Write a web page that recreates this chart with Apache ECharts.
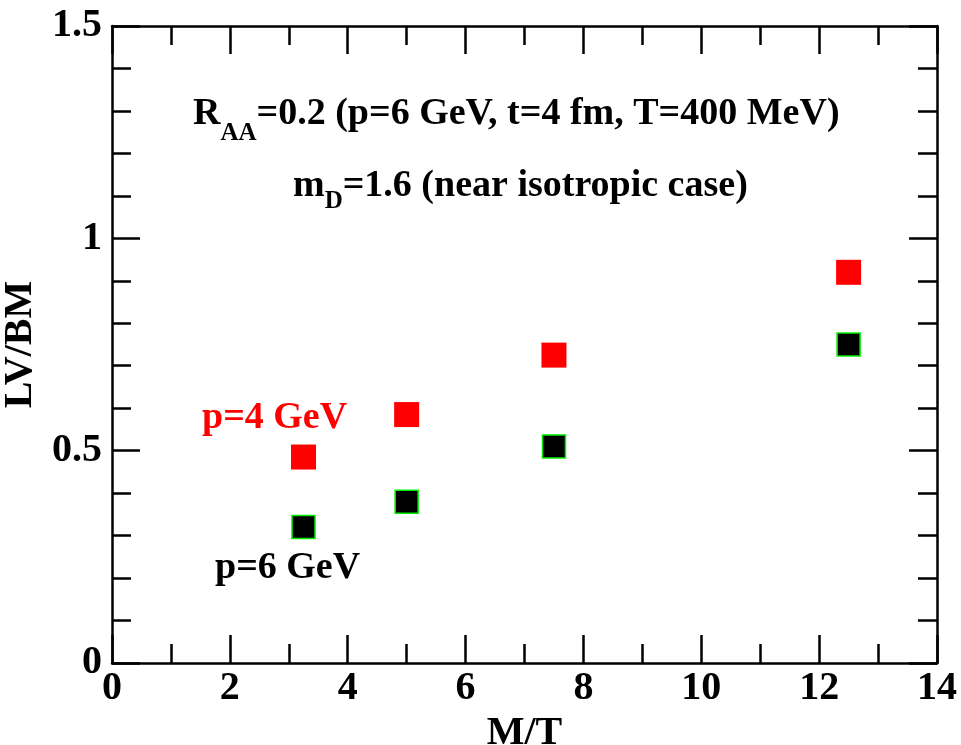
<!DOCTYPE html>
<html>
<head>
<meta charset="utf-8">
<script src="https://cdn.jsdelivr.net/npm/echarts@6/dist/echarts.min.js"></script>
</head>
<body style="margin:0;background:#fff">
<div id="main" style="width:961px;height:745px"></div>
<script>
// M/T values and LV/BM ratios
var massOverT = [3.25, 5, 7.5, 12.5];
var p4GeV = [0.485, 0.585, 0.725, 0.92];
var p6GeV = [0.32, 0.38, 0.51, 0.75];

function pairs(xs, ys) {
    return xs.map(function (x, i) { return [x, ys[i]]; });
}

var serifFont = 'Liberation Serif';
var axisLine = { onZero: false, lineStyle: { color: '#000', width: 2.5 } };
var tick = { inside: true, length: 28, lineStyle: { color: '#000', width: 2.5 } };
var minor = { show: true, length: 19, lineStyle: { color: '#000', width: 2.5 } };
var tickLabel = { color: '#000', fontFamily: serifFont, fontWeight: 'bold', fontSize: 40 };
var nameStyle = { color: '#000', fontFamily: serifFont, fontWeight: 'bold', fontSize: 40 };

function draw() {
    var chart = echarts.init(document.getElementById('main'));
    chart.setOption({
        animation: false,
        grid: { left: 112, right: 24, top: 26, bottom: 82, containLabel: false, outerBoundsMode: 'none' },
        xAxis: [
            {
                type: 'value', min: 0, max: 14, interval: 2,
                axisLine: axisLine, axisTick: tick,
                minorTick: Object.assign({ splitNumber: 2 }, minor),
                splitLine: { show: false }, minorSplitLine: { show: false },
                axisLabel: Object.assign({ margin: 6 }, tickLabel),
                name: 'M/T', nameLocation: 'middle', nameGap: 42,
                nameTextStyle: nameStyle
            },
            {
                type: 'value', min: 0, max: 14, interval: 2, position: 'top',
                axisLine: axisLine, axisTick: tick,
                minorTick: Object.assign({ splitNumber: 2 }, minor),
                splitLine: { show: false }, axisLabel: { show: false }
            }
        ],
        yAxis: [
            {
                type: 'value', min: 0, max: 1.5, interval: 0.5,
                axisLine: axisLine, axisTick: tick,
                minorTick: Object.assign({ splitNumber: 5 }, minor),
                splitLine: { show: false }, minorSplitLine: { show: false },
                axisLabel: Object.assign({ margin: 10, formatter: function (v) { return String(v); } }, tickLabel),
                name: 'LV/BM', nameLocation: 'middle', nameGap: 56,
                nameTextStyle: nameStyle
            },
            {
                type: 'value', min: 0, max: 1.5, interval: 0.5, position: 'right',
                axisLine: axisLine, axisTick: tick,
                minorTick: Object.assign({ splitNumber: 5 }, minor),
                splitLine: { show: false }, axisLabel: { show: false }
            }
        ],
        series: [
            {
                name: 'p=4 GeV', type: 'scatter', symbol: 'rect', symbolSize: 25,
                itemStyle: { color: '#ff0000', opacity: 1 },
                data: pairs(massOverT, p4GeV)
            },
            {
                name: 'p=6 GeV', type: 'scatter', symbol: 'rect', symbolSize: 23,
                itemStyle: { color: '#000', borderColor: '#00ee00', borderWidth: 1.5, opacity: 1 },
                data: pairs(massOverT, p6GeV)
            }
        ],
        graphic: [
            {
                type: 'text', left: 193, top: 95,
                style: {
                    text: '{n|R}{s|AA}{n|=0.2 (p=6 GeV, t=4 fm, T=400 MeV)}',
                    rich: {
                        n: { fontFamily: serifFont, fontWeight: 'bold', fontSize: 38, fill: '#000' },
                        s: { fontFamily: serifFont, fontWeight: 'bold', fontSize: 25, fill: '#000', padding: [39, 0, 0, 0] }
                    }
                }
            },
            {
                type: 'text', left: 293, top: 167,
                style: {
                    text: '{n|m}{s|D}{n|=1.6 (near isotropic case)}',
                    rich: {
                        n: { fontFamily: serifFont, fontWeight: 'bold', fontSize: 38, fill: '#000' },
                        s: { fontFamily: serifFont, fontWeight: 'bold', fontSize: 25, fill: '#000', padding: [31, 0, 0, 0] }
                    }
                }
            },
            {
                type: 'text', left: 202, top: 399,
                style: { text: 'p=4 GeV', fontFamily: serifFont, fontWeight: 'bold', fontSize: 38, fill: '#ff0000' }
            },
            {
                type: 'text', left: 215, top: 549,
                style: { text: 'p=6 GeV', fontFamily: serifFont, fontWeight: 'bold', fontSize: 38, fill: '#000' }
            }
        ]
    });
}

draw();
</script>
</body>
</html>
